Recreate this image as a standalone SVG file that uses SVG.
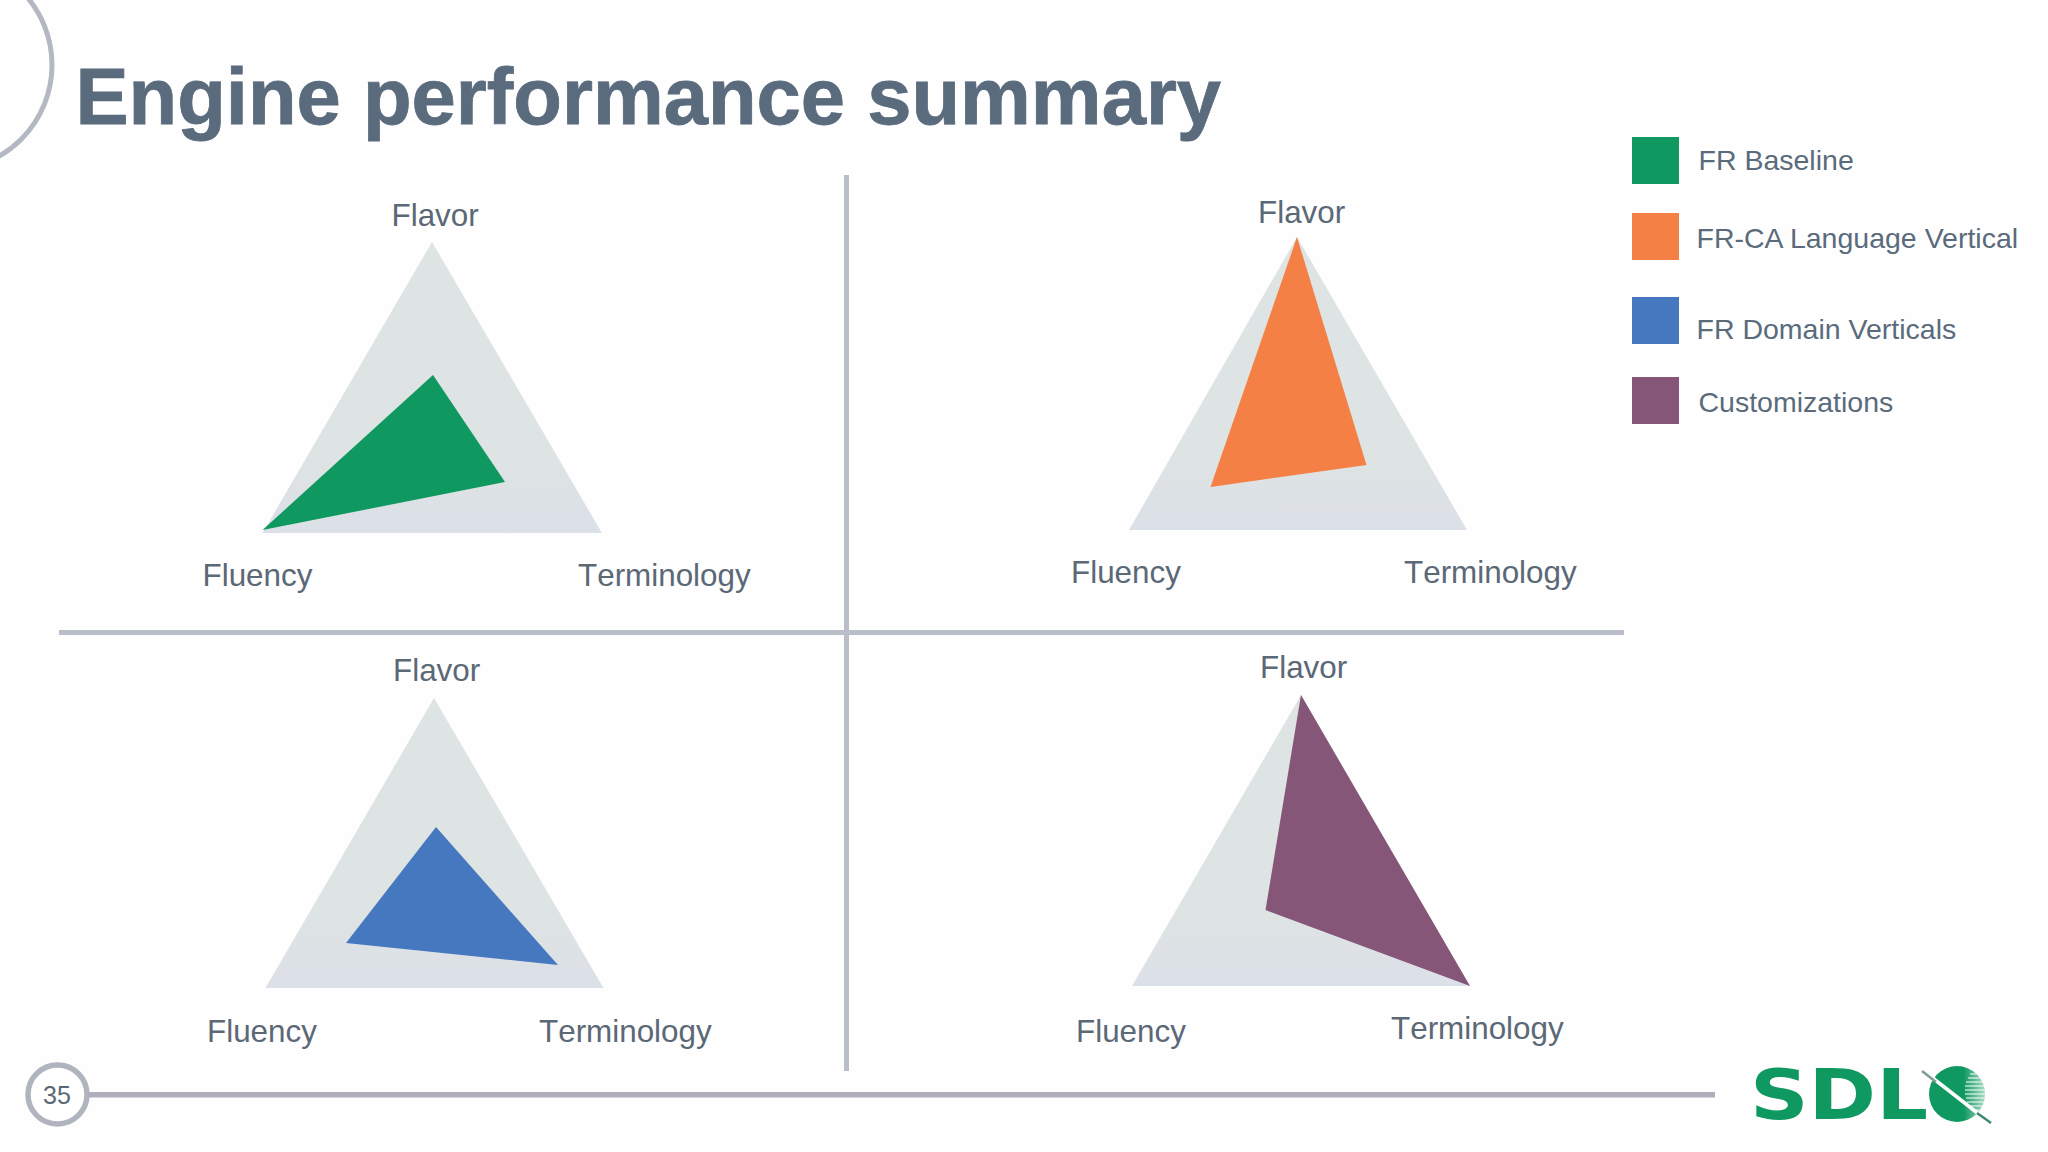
<svg xmlns="http://www.w3.org/2000/svg" width="2048" height="1152" viewBox="0 0 2048 1152">
<style>
text{font-family:"Liberation Sans",Arial,sans-serif;fill:#5b6876}
.l{font-size:31.4px;font-kerning:none}
.g{font-size:28.5px;fill:#5a6b7b}
.t{fill:url(#bg)}
.r{stroke:#b4b8c2;stroke-width:5;fill:none}
</style>
<defs>
<linearGradient id="bg" x1="0" y1="0" x2="0" y2="1"><stop offset="0.75" stop-color="#dee3e3"/><stop offset="1" stop-color="#dce0e8"/></linearGradient>
<linearGradient id="gl" x1="0" y1="0" x2="1" y2="0"><stop offset="0.62" stop-color="#0f9960"/><stop offset="1" stop-color="#a8dcc4"/></linearGradient>
<clipPath id="gc"><circle cx="1957" cy="1094" r="28"/></clipPath>
</defs>
<rect width="2048" height="1152" fill="#fefefe"/>
<g id="decor">
<circle class="r" cx="-53" cy="65" r="105"/>
<circle cx="57.500" cy="1094.500" r="29.500" fill="#fff" stroke="#afb4bf" stroke-width="5.500"/>
<text x="57" y="1104" font-size="25" text-anchor="middle">35</text>
<rect x="88" y="1092" width="1627" height="5.500" fill="#aeaebd"/>
</g>
<text id="title" x="75.500" y="123.500" font-size="79.6" font-weight="700" stroke="#5a6b7d" stroke-width="0.8" style="fill:#5a6b7d">Engine performance summary</text>
<g id="dividers">
<rect x="844" y="175" width="5" height="896" fill="#b9bec9"/>
<rect x="59" y="630" width="1565" height="5" fill="#b9bec9"/>
</g>
<g id="chart-baseline">
<polygon class="t" points="432,242 262.500,533 602,533"/>
<polygon fill="#0f9960" points="433,375 505,482 262.500,530"/>
<text class="l" x="391.500" y="226">Flavor</text>
<text class="l" x="202.500" y="586">Fluency</text>
<text class="l" x="578" y="586">Terminology</text>
</g>
<g id="chart-language">
<polygon class="t" points="1297,237 1129,530 1467,530"/>
<polygon fill="#f58045" points="1297,237 1366.500,465 1210.500,487"/>
<text class="l" x="1258" y="223">Flavor</text>
<text class="l" x="1071" y="583">Fluency</text>
<text class="l" x="1404" y="583">Terminology</text>
</g>
<g id="chart-domain">
<polygon class="t" points="434,698 265.500,988 603.500,988"/>
<polygon fill="#4678c0" points="436,827 558,965 346,943"/>
<text class="l" x="393" y="681">Flavor</text>
<text class="l" x="207" y="1042">Fluency</text>
<text class="l" x="539" y="1042">Terminology</text>
</g>
<g id="chart-custom">
<polygon class="t" points="1301,695 1132,986 1470,986"/>
<polygon fill="#855677" points="1301,695 1470,986 1265.500,910"/>
<text class="l" x="1260" y="678">Flavor</text>
<text class="l" x="1076" y="1042">Fluency</text>
<text class="l" x="1391" y="1039">Terminology</text>
</g>
<g id="legend">
<g id="legend-baseline"><rect x="1632" y="137" width="47" height="47" fill="#0f9960"/><text class="g" x="1698.500" y="170">FR Baseline</text></g>
<g id="legend-language"><rect x="1632" y="213" width="47" height="47" fill="#f58045"/><text class="g" x="1696.500" y="247.500">FR-CA Language Vertical</text></g>
<g id="legend-domain"><rect x="1632" y="297" width="47" height="47" fill="#4678c0"/><text class="g" x="1696.500" y="338.500">FR Domain Verticals</text></g>
<g id="legend-custom"><rect x="1632" y="377" width="47" height="47" fill="#855677"/><text class="g" x="1698.500" y="412">Customizations</text></g>
</g>
<g id="logo">
<text x="1750" y="1118.500" font-size="69" font-weight="700" textLength="178" lengthAdjust="spacingAndGlyphs" style="font-family:'DejaVu Sans',sans-serif;fill:#0f9960">SDL</text>
<g clip-path="url(#gc)">
<rect x="1929" y="1066" width="56" height="56" fill="url(#gl)"/>
<g stroke="#fefefe" stroke-width="1">
<line x1="1972" y1="1070" x2="1985" y2="1070"/><line x1="1970" y1="1074" x2="1985" y2="1074"/><line x1="1968" y1="1078" x2="1985" y2="1078"/><line x1="1966" y1="1082" x2="1985" y2="1082"/><line x1="1965" y1="1086" x2="1985" y2="1086"/><line x1="1965" y1="1090" x2="1985" y2="1090"/><line x1="1965" y1="1094" x2="1985" y2="1094"/><line x1="1966" y1="1098" x2="1985" y2="1098"/><line x1="1967" y1="1102" x2="1985" y2="1102"/><line x1="1969" y1="1106" x2="1985" y2="1106"/><line x1="1971" y1="1110" x2="1985" y2="1110"/>
</g>
</g>
<line x1="1925" y1="1072" x2="1989" y2="1122" stroke="#fefefe" stroke-width="3.500"/>
<line x1="1922" y1="1071" x2="1936" y2="1082" stroke="#7d9f90" stroke-width="2.500"/>
<line x1="1977" y1="1113" x2="1991" y2="1123" stroke="#3f8a6c" stroke-width="2.500"/>
</g>
</svg>
